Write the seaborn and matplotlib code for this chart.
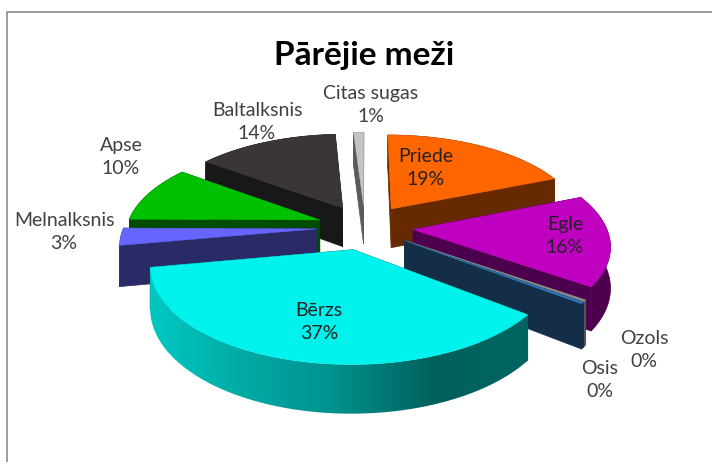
import numpy as np
import matplotlib
matplotlib.use("Agg")
import matplotlib.pyplot as plt
from matplotlib.patches import Polygon
import seaborn as sns

categories = ["Priede", "Egle", "Ozols", "Osis", "Bērzs", "Melnalksnis", "Apse", "Baltalksnis", "Citas sugas"]
values = [19, 16, 0.3, 0.3, 37, 3, 10, 14, 1]

top_colors = ["#ff6600", "#c000c0", "#8a8a8a", "#2e75b6", "#00f2ec", "#6666ff", "#00c000", "#3b3535", "#c4c4c4"]
wall_colors = ["#662900", "#4d004d", "#555555", "#152e47", "#006460", "#2a2a66", "#004d00", "#181818", "#5a5a5a"]
birch_wall = ["#00c8c2", "#00aaa5", "#008f8b", "#00605c", "#006662"]

# label centres in picture pixels
label_pos = {
    "Priede": (426, 168), "Egle": (565, 236), "Ozols": (644, 350), "Osis": (600, 380),
    "Bērzs": (319, 322), "Melnalksnis": (64, 232), "Apse": (121, 157),
    "Baltalksnis": (257, 122), "Citas sugas": (371, 105),
}
dark_labels = ["Priede", "Egle", "Bērzs"]

# pie geometry, in pixels and pie radii
cx, cy = 365, 227
rad_x, rad_y = 193, 90
persp = 0.15
height = 40
explode = 0.25


def project(x, y):
    s = 1 / (1 - persp * y)
    return cx + rad_x * x * s, cy + rad_y * y * s, height * s


sns.set_theme(style="white")
plt.rcParams["font.family"] = ["Lato", "DejaVu Sans"]

fig, ax = plt.subplots(figsize=(7.12, 4.62), dpi=100)
ax.set_position([0, 0, 1, 1])
ax.axis("off")

shares = np.array(values) / sum(values)
edges = np.concatenate([[0], np.cumsum(shares)]) * 2 * np.pi
mids = (edges[:-1] + edges[1:]) / 2
# back slices first, the front one last
order = np.argsort(-np.abs(mids - np.pi))

for i in order:
    ax0, ay0 = explode * np.sin(mids[i]), -explode * np.cos(mids[i])
    ang = np.linspace(edges[i], edges[i + 1], 90)
    arc = [project(ax0 + np.sin(a), ay0 - np.cos(a)) for a in ang]
    apex = project(ax0, ay0)
    arc_x = np.array([p[0] for p in arc])
    arc_y = np.array([p[1] for p in arc])
    arc_h = np.array([p[2] for p in arc])

    for end in (0, -1):
        side = [(apex[0], apex[1]), (arc_x[end], arc_y[end]),
                (arc_x[end], arc_y[end] + arc_h[end]), (apex[0], apex[1] + apex[2])]
        ax.add_patch(Polygon(side, closed=True, fc=wall_colors[i], ec=wall_colors[i], lw=0.5))

    rim = list(zip(arc_x, arc_y)) + list(zip(arc_x[::-1], (arc_y + arc_h)[::-1]))
    if categories[i] == "Bērzs":
        # the rim of the big slice has a left to right shading
        rim_patch = Polygon(rim, closed=True, fc="none", ec="none")
        ax.add_patch(rim_patch)
        shade = np.array(sns.blend_palette(birch_wall, n_colors=256))[None, :, :]
        im = ax.imshow(shade, extent=[arc_x.min(), arc_x.max(), (arc_y + arc_h).max(), arc_y.min()],
                       aspect="auto", zorder=1)
        im.set_clip_path(rim_patch)
    else:
        ax.add_patch(Polygon(rim, closed=True, fc=wall_colors[i], ec=wall_colors[i], lw=0.5))

    top = [(apex[0], apex[1])] + list(zip(arc_x, arc_y))
    ax.add_patch(Polygon(top, closed=True, fc=top_colors[i], ec=top_colors[i], lw=0.3, zorder=1.5 if categories[i] == "Bērzs" else 1))

ax.set_xlim(0, 712)
ax.set_ylim(462, 0)

for name, val in zip(categories, values):
    x, y = label_pos[name]
    col = "#222222" if name in dark_labels else "#404040"
    ax.text(x, y, f"{name}\n{val:.0f}%", ha="center", va="center", fontsize=14,
            color=col, linespacing=1.45, zorder=5)

ax.text(364, 55, "Pārējie meži", ha="center", va="center", fontsize=24,
        fontweight="bold", color="black", zorder=5)

ax.plot([6.5, 6.5, 712], [462, 11.5, 11.5], color="#8c8c8c", lw=1.2)

fig.savefig("out.png", dpi=100, facecolor="white")
plt.close(fig)
